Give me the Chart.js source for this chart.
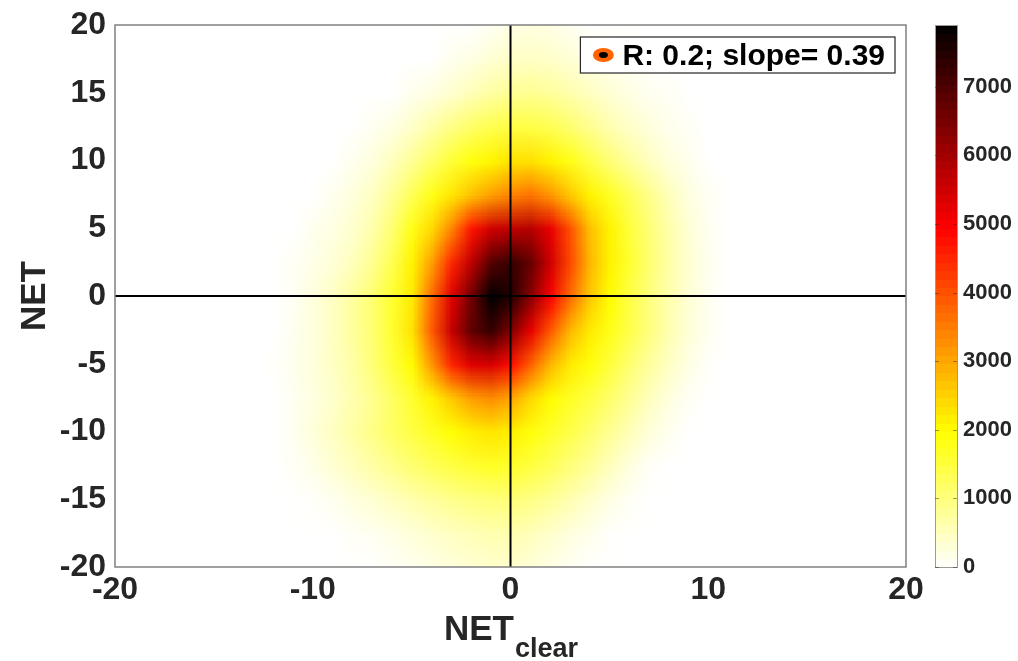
<!DOCTYPE html>
<html>
<head>
<meta charset="utf-8">
<script src="https://cdn.jsdelivr.net/npm/chart.js@4.4.1/dist/chart.umd.min.js"></script>
<style>
  html, body { margin: 0; padding: 0; background: #fff; }
</style>
</head>
<body>
<canvas id="netChart" width="1018" height="661"></canvas>
<script>
// grid nodes of the 2D histogram (NET_clear across, NET down)
const netClear = [-12, -11, -10, -9, -8, -7, -6, -5, -4, -3, -2, -1, 0, 1, 2, 3, 4, 5, 6, 7, 8, 9, 10, 11, 12];
const netAll = [20, 17.5, 15, 12.5, 10, 7.5, 5, 2.5, 0, -2.5, -5, -7.5, -10, -12.5, -15, -17.5, -20];

// counts per node, one row per netAll value
const counts = [
    [0, 0, 0, 0, 0, 0, 0, 0, 0, 0, 0, 100, 200, 250, 200, 120, 0, 0, 0, 0, 0, 0, 0, 0, 0],
    [0, 0, 0, 0, 0, 0, 0, 0, 0, 130, 220, 330, 430, 460, 420, 320, 220, 130, 80, 0, 0, 0, 0, 0, 0],
    [0, 0, 0, 0, 0, 0, 0, 140, 230, 380, 560, 720, 830, 850, 780, 640, 480, 330, 210, 120, 80, 0, 0, 0, 0],
    [0, 0, 0, 0, 0, 110, 220, 420, 680, 960, 1200, 1380, 1450, 1450, 1330, 1120, 870, 620, 420, 260, 130, 60, 0, 0, 0],
    [0, 0, 0, 0, 130, 260, 500, 820, 1180, 1560, 1870, 2080, 2300, 2320, 2120, 1800, 1420, 1060, 760, 490, 270, 130, 0, 0, 0],
    [0, 0, 0, 130, 260, 470, 820, 1300, 1800, 2250, 2700, 3100, 3400, 3600, 3200, 2600, 2100, 1700, 1300, 900, 520, 230, 80, 0, 0],
    [0, 0, 130, 220, 380, 650, 1100, 1800, 2400, 3400, 4700, 5500, 5700, 5800, 5200, 4000, 2700, 2100, 1500, 1050, 650, 320, 100, 0, 0],
    [0, 80, 170, 320, 520, 850, 1350, 2100, 3100, 4500, 5700, 6900, 7300, 6700, 5500, 4100, 2800, 2100, 1600, 1100, 680, 350, 120, 0, 0],
    [0, 90, 260, 460, 760, 1100, 1600, 2200, 3700, 5300, 6600, 7900, 7500, 6300, 5000, 3700, 2600, 2000, 1450, 1000, 620, 320, 110, 0, 0],
    [0, 120, 270, 470, 760, 1100, 1600, 2300, 3900, 5600, 6800, 7300, 6400, 5200, 3900, 2800, 2200, 1800, 1400, 1000, 600, 300, 100, 0, 0],
    [20, 140, 270, 460, 700, 1050, 1500, 2000, 3200, 4500, 5300, 5400, 4800, 3800, 2800, 2200, 1900, 1500, 1100, 750, 450, 200, 30, 0, 0],
    [0, 110, 230, 400, 620, 870, 1200, 1600, 2100, 2600, 3100, 3300, 3000, 2400, 2000, 1700, 1450, 1150, 820, 500, 250, 70, 0, 0, 0],
    [0, 110, 290, 470, 690, 940, 1200, 1450, 1700, 1950, 2150, 2250, 2150, 1900, 1650, 1400, 1120, 830, 540, 290, 110, 0, 0, 0, 0],
    [0, 60, 170, 340, 500, 690, 890, 1090, 1280, 1440, 1580, 1680, 1650, 1480, 1280, 1030, 780, 500, 240, 50, 0, 0, 0, 0, 0],
    [0, 0, 40, 120, 230, 340, 480, 620, 750, 870, 970, 1040, 1040, 940, 790, 600, 390, 190, 70, 0, 0, 0, 0, 0, 0],
    [0, 0, 0, 0, 70, 110, 190, 280, 380, 470, 550, 610, 610, 520, 390, 240, 150, 20, 0, 0, 0, 0, 0, 0, 0],
    [0, 0, 0, 0, 0, 0, 70, 120, 200, 270, 330, 380, 380, 300, 180, 100, 10, 0, 0, 0, 0, 0, 0, 0, 0]
];

const xTicks = [-20, -10, 0, 10, 20];
const yTicks = [-20, -15, -10, -5, 0, 5, 10, 15, 20];
const cbTicks = [0, 1000, 2000, 3000, 4000, 5000, 6000, 7000];
const cbMax = 7900;
const fitR = 0.2;
const fitSlope = 0.39;

const FONT = '"Liberation Sans", Arial, Helvetica, sans-serif';
const INK = '#262626';

// flipped "hot" colormap: white -> yellow -> red -> black
function hotFlip(v) {
    const s = 1 - Math.min(Math.max(v / cbMax, 0), 1);
    const r = Math.min(1, s / 0.375);
    const g = Math.min(1, Math.max(0, (s - 0.375) / 0.375));
    const b = Math.min(1, Math.max(0, (s - 0.75) / 0.25));
    return [Math.round(r * 255), Math.round(g * 255), Math.round(b * 255)];
}

// one pixel per grid node, stretched over the plot later
const heatImg = document.createElement('canvas');
heatImg.width = netClear.length;
heatImg.height = netAll.length;
(function () {
    const hctx = heatImg.getContext('2d');
    const img = hctx.createImageData(heatImg.width, heatImg.height);
    counts.forEach((row, j) => {
        row.forEach((v, i) => {
            const c = hotFlip(v);
            const k = (j * heatImg.width + i) * 4;
            img.data[k] = c[0];
            img.data[k + 1] = c[1];
            img.data[k + 2] = c[2];
            img.data[k + 3] = 255;
        });
    });
    hctx.putImageData(img, 0, 0);
})();

const heatLayer = {
    id: 'heatLayer',
    beforeDatasetsDraw(chart) {
        const {ctx, chartArea: a, scales: {x, y}} = chart;
        const dx = (netClear[1] - netClear[0]) / 2;
        const dy = (netAll[0] - netAll[1]) / 2;
        const left = x.getPixelForValue(netClear[0] - dx);
        const right = x.getPixelForValue(netClear[netClear.length - 1] + dx);
        const top = y.getPixelForValue(netAll[0] + dy);
        const bottom = y.getPixelForValue(netAll[netAll.length - 1] - dy);
        ctx.save();
        ctx.beginPath();
        ctx.rect(a.left, a.top, a.right - a.left, a.bottom - a.top);
        ctx.clip();
        ctx.imageSmoothingEnabled = true;
        ctx.imageSmoothingQuality = 'low';
        ctx.drawImage(heatImg, left, top, right - left, bottom - top);

        // zero lines
        ctx.strokeStyle = '#000';
        ctx.lineWidth = 2;
        ctx.beginPath();
        const x0 = x.getPixelForValue(0), y0 = y.getPixelForValue(0);
        ctx.moveTo(x0, a.top); ctx.lineTo(x0, a.bottom);
        ctx.moveTo(a.left, y0); ctx.lineTo(a.right, y0);
        ctx.stroke();
        ctx.restore();

        ctx.save();
        ctx.strokeStyle = '#808080';
        ctx.lineWidth = 1.5;
        ctx.strokeRect(a.left, a.top, a.right - a.left, a.bottom - a.top);
        ctx.restore();
    }
};

const extras = {
    id: 'extras',
    afterDraw(chart) {
        const {ctx, chartArea: a, scales: {cb}} = chart;

        // colorbar, 64 bands like the figure colormap
        const bx = a.right + 29, bw = 22;
        const nBand = 64;
        for (let k = 0; k < nBand; k++) {
            const v0 = k * cbMax / nBand, v1 = (k + 1) * cbMax / nBand;
            const c = hotFlip((k + 0.5) * cbMax / nBand);
            const p0 = cb.getPixelForValue(v0), p1 = cb.getPixelForValue(v1);
            ctx.fillStyle = 'rgb(' + c.join(',') + ')';
            ctx.fillRect(bx, Math.floor(p1), bw, Math.ceil(p0) - Math.floor(p1));
        }
        ctx.strokeStyle = '#9a9a9a';
        ctx.lineWidth = 1;
        ctx.strokeRect(bx + 0.5, cb.getPixelForValue(cbMax) + 0.5, bw, cb.getPixelForValue(0) - cb.getPixelForValue(cbMax));
        ctx.strokeStyle = 'rgba(38,38,38,0.45)';
        ctx.beginPath();
        cbTicks.forEach(v => {
            const p = Math.round(cb.getPixelForValue(v)) + 0.5;
            ctx.moveTo(bx + bw - 4, p); ctx.lineTo(bx + bw, p);
            ctx.moveTo(bx, p); ctx.lineTo(bx + 4, p);
        });
        ctx.stroke();

        // axis titles
        ctx.fillStyle = INK;
        ctx.textBaseline = 'alphabetic';
        const cx = (a.left + a.right) / 2;
        ctx.font = 'bold 35px ' + FONT;
        const w1 = ctx.measureText('NET').width;
        ctx.font = 'bold 27px ' + FONT;
        const w2 = ctx.measureText('clear').width;
        const sx = cx - (w1 + w2) / 2;
        ctx.textAlign = 'left';
        ctx.font = 'bold 35px ' + FONT;
        ctx.fillText('NET', sx, a.bottom + 73);
        ctx.font = 'bold 27px ' + FONT;
        ctx.fillText('clear', sx + w1 + 1, a.bottom + 90);

        ctx.save();
        ctx.translate(45, (a.top + a.bottom) / 2);
        ctx.rotate(-Math.PI / 2);
        ctx.textAlign = 'center';
        ctx.font = 'bold 35px ' + FONT;
        ctx.fillText('NET', 0, 0);
        ctx.restore();

        // legend box
        const label = chart.data.datasets[0].label;
        ctx.font = 'bold 30px ' + FONT;
        const tw = ctx.measureText(label).width;
        const lr = a.right - 11, lt = a.top + 12, lh = 36;
        const ll = lr - tw - 52;
        ctx.fillStyle = '#fff';
        ctx.fillRect(ll, lt, lr - ll, lh);
        ctx.strokeStyle = INK;
        ctx.lineWidth = 1.2;
        ctx.strokeRect(ll, lt, lr - ll, lh);
        ctx.fillStyle = '#ff6400';
        ctx.beginPath();
        ctx.ellipse(ll + 23, lt + 18, 10.5, 7, 0, 0, Math.PI * 2);
        ctx.fill();
        ctx.fillStyle = '#000';
        ctx.beginPath();
        ctx.ellipse(ll + 23, lt + 18, 4.5, 3, 0, 0, Math.PI * 2);
        ctx.fill();
        ctx.textAlign = 'left';
        ctx.fillText(label, ll + 42, lt + 28);
    }
};

const plainTick = v => String(v);

new Chart(document.getElementById('netChart'), {
    type: 'scatter',
    data: {
        datasets: [{
            label: 'R: ' + fitR + '; slope= ' + fitSlope,
            data: []
        }]
    },
    options: {
        responsive: false,
        animation: false,
        layout: {padding: {top: 25, left: 0, right: 0, bottom: 0}},
        plugins: {legend: {display: false}, tooltip: {enabled: false}},
        scales: {
            x: {
                type: 'linear', min: -20, max: 20,
                grid: {display: false, drawTicks: true, tickLength: 4},
                border: {display: false},
                afterBuildTicks: s => { s.ticks = xTicks.map(v => ({value: v})); },
                afterFit: s => { s.height = 94; },
                ticks: {color: INK, padding: 0, callback: plainTick, font: {family: FONT, size: 32, weight: 'bold'}, maxRotation: 0}
            },
            y: {
                type: 'linear', min: -20, max: 20,
                grid: {display: false, drawTicks: true, tickLength: 9},
                border: {display: false},
                afterBuildTicks: s => { s.ticks = yTicks.map(v => ({value: v})); },
                afterFit: s => { s.width = 115; },
                ticks: {color: INK, padding: 0, callback: plainTick, font: {family: FONT, size: 32, weight: 'bold'}}
            },
            cb: {
                type: 'linear', axis: 'y', position: 'right', min: 0, max: cbMax,
                grid: {display: false, drawTicks: true, tickLength: 53},
                border: {display: false},
                afterBuildTicks: s => { s.ticks = cbTicks.map(v => ({value: v})); },
                afterFit: s => { s.width = 112; },
                ticks: {color: INK, padding: 4, callback: plainTick, font: {family: FONT, size: 22, weight: 'bold'}}
            }
        }
    },
    plugins: [heatLayer, extras]
});
</script>
</body>
</html>
